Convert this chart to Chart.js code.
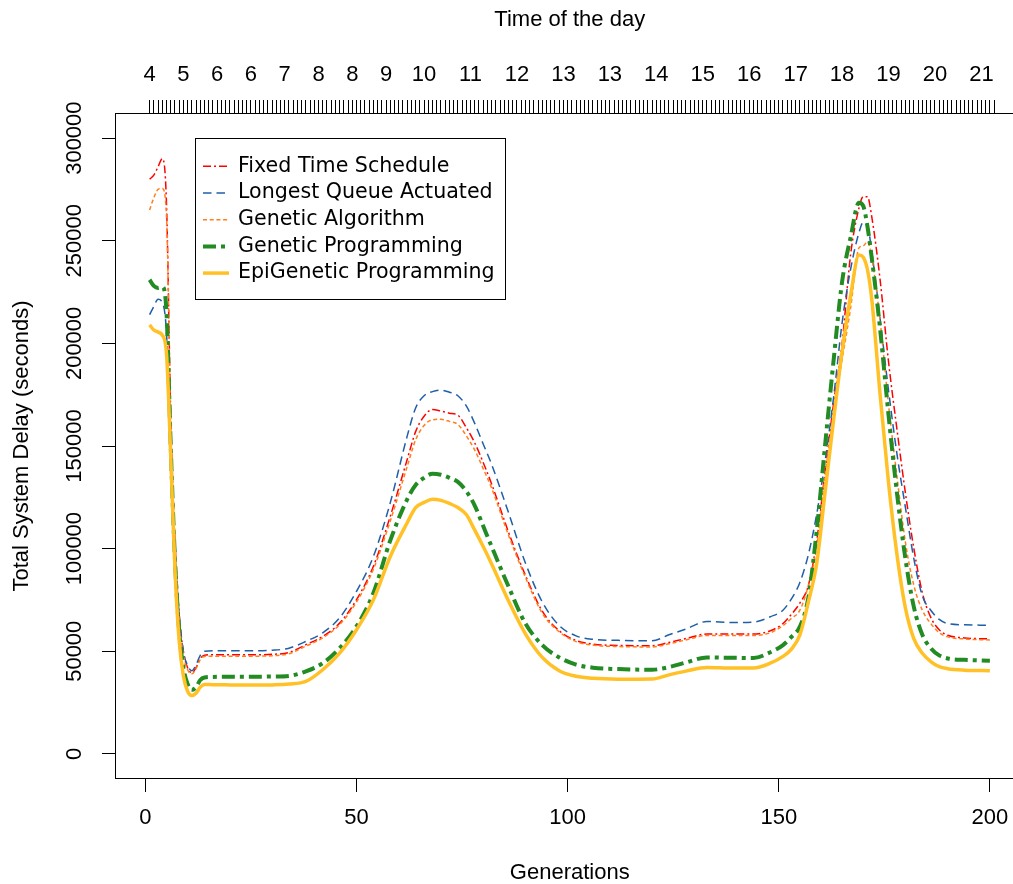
<!DOCTYPE html>
<html>
<head>
<meta charset="utf-8">
<title>Total System Delay</title>
<script src="https://cdn.jsdelivr.net/npm/chart.js@4.4.1/dist/chart.umd.min.js"></script>
<style>
    html, body { margin: 0; padding: 0; background: #fff; overflow: hidden; }
    #wrap { width: 1030px; height: 884px; }
</style>
</head>
<body>
<div id="wrap"><canvas id="delayChart" width="1030" height="884"></canvas></div>
<script>
const generations = [1, 2, 3, 4, 5, 6, 7, 8, 9, 10, 11, 12, 13, 14, 16, 20, 25, 30,
    34, 38, 42, 46, 50, 54, 58, 62, 64, 66, 68, 70, 72, 74, 76, 78, 80, 82,
    86, 90, 94, 98, 102, 106, 112, 120, 124, 128, 133, 139, 144, 148,
    151, 153, 155, 157, 159, 161, 163, 165, 167, 169,
    170, 171, 172, 174, 176, 178, 180, 182, 184, 186, 188, 190, 194, 200];

const fixedTime = [280000, 282000, 286000, 290000, 268000, 165000, 105000, 68000, 50000, 42000, 39500, 42000, 46500, 48000,
    48300, 48300, 48300, 48500,
    49400, 53200, 57200, 63700, 75100, 91400, 115800, 143400,
    157000, 164500, 167800, 167000, 166000, 165000, 159000, 151500, 142000, 131500,
    108000, 87000, 69500, 60000, 55200, 53500, 52800,
    52700, 54300, 56200, 58400, 58400, 58400, 60000,
    63500, 68000, 73500, 82000, 104000, 138000, 171000, 200000, 243000, 266000,
    271500, 271500, 262000, 231000, 191000, 158000, 127000, 100000, 78500, 66500, 60500, 57800, 56500, 56000];

const longestQueue = [214000, 218000, 221500, 220000, 205000, 150000, 100000, 68000, 50000, 43000, 40500, 43500, 48000, 50000,
    50200, 50200, 50200, 50500,
    51500, 54800, 59000, 66300, 79200, 96200, 122400, 154800,
    168500, 174500, 176500, 177200, 176200, 174500, 169500, 161000, 151000, 141000,
    117500, 93000, 74000, 62500, 57500, 55800, 55300,
    55100, 58000, 60800, 64500, 64000, 64200, 66800,
    70000, 75500, 83500, 97000, 117000, 143000, 174000, 210000, 236000, 254000,
    259000, 257500, 245000, 212000, 177000, 146000, 120000, 95000, 77000, 70000, 65500, 63500, 62900, 62600];

const geneticAlgo = [265000, 271000, 275000, 275500, 262000, 160000, 100000, 65000, 48000, 41000, 39000, 41500, 46000, 47500,
    47600, 47600, 47600, 47800,
    48800, 52500, 56500, 63000, 74000, 90000, 113500, 140000,
    153000, 160000, 162800, 163000, 162000, 160500, 155000, 148000, 139000, 129500,
    106500, 86000, 68500, 59500, 54700, 53000, 52300,
    52100, 53600, 55500, 57700, 57700, 57700, 59000,
    62500, 66000, 70000, 82000, 101000, 136000, 166000, 192000, 217000, 246500,
    247500, 249500, 242000, 211000, 170000, 135000, 103000, 82000, 70000, 63500, 59000, 57000, 56000, 55500];

const geneticProg = [231000, 228000, 227000, 227500, 215000, 150000, 95000, 60000, 42000, 34000, 31200, 32500, 36000, 37200,
    37500, 37600, 37600, 37700,
    38000, 40200, 44200, 51500, 62100, 78400, 104000, 124000,
    131000, 134500, 136500, 136000, 134500, 132500, 128000, 121000, 111000, 101000,
    81500, 63500, 53000, 47000, 43500, 42000, 41300,
    41000, 42300, 44500, 47000, 46800, 46700, 49500,
    53000, 57000, 62000, 76000, 109000, 151000, 192000, 230000, 251500, 268500,
    267000, 257000, 242000, 207000, 165000, 127000, 95000, 71500, 58000, 51500, 48000, 46500, 45800, 45400];

const epiGeneticProg = [209000, 206500, 205500, 204000, 195000, 145000, 90000, 55000, 38000, 30500, 28400, 29500, 32500, 33800,
    33700, 33600, 33500, 33600,
    34000, 35300, 41000, 49100, 60500, 75100, 96200, 112600,
    120000, 122500, 124000, 123500, 122000, 120000, 116600, 109000, 101000, 92500,
    74500, 58500, 47000, 40500, 37800, 36800, 36400,
    36500, 38500, 40300, 42100, 41800, 41800, 44200,
    47500, 51000, 58000, 74000, 93000, 128000, 163000, 196000, 223000, 243000,
    242000, 236000, 222000, 175000, 132000, 97000, 71000, 56000, 49000, 45000, 42500, 41500, 40800, 40500];

// axis ticks
const genTicks = [0, 50, 100, 150, 200];
const delayTicks = [0, 50000, 100000, 150000, 200000, 250000, 300000];

// top axis: hour of the day, labelled at these generations
const hourGens = [1, 9, 17, 25, 33, 41, 49, 57, 66, 77, 88, 99, 110, 121, 132, 143, 154, 165, 176, 187, 198];
const hourLabels = ['4', '5', '6', '6', '7', '8', '8', '9', '10', '11', '12', '13', '13', '14', '15', '16', '17', '18', '19', '20', '21'];

const seriesStyle = [
    { label: 'Fixed Time Schedule', values: fixedTime, color: '#ff0000', width: 1.5, dash: [8, 3, 2, 3] },
    { label: 'Longest Queue Actuated', values: longestQueue, color: '#1f5fa8', width: 1.5, dash: [8.5, 5] },
    { label: 'Genetic Algorithm', values: geneticAlgo, color: '#ff7f1e', width: 1.5, dash: [4, 2.7] },
    { label: 'Genetic Programming', values: geneticProg, color: '#228b22', width: 4, dash: [13, 5, 4, 5] },
    { label: 'EpiGenetic Programming', values: epiGeneticProg, color: '#ffc125', width: 3.5, dash: [] }
];

const X_MIN = -6.96, X_MAX = 207.96;   // R style 4% padding around 1..200
const Y_MIN = -12000, Y_MAX = 312000;  // and around 0..300000

const axisFont = { family: '"Liberation Sans", Arial, Helvetica, sans-serif', size: 22 };

// box, rotated y labels and the legend, drawn R-like
const rFrame = {
    id: 'rFrame',
    afterDraw(chart) {
        const { ctx, chartArea: a, scales } = chart;
        ctx.save();
        ctx.strokeStyle = '#000';
        ctx.lineWidth = 1;
        ctx.setLineDash([]);
        const left = Math.round(a.left) - 0.5;
        ctx.strokeRect(left, a.top, a.right - left, a.bottom - a.top);

        // y tick labels, reading upwards
        ctx.fillStyle = '#000';
        ctx.font = '22px "Liberation Sans", Arial, sans-serif';
        ctx.textAlign = 'center';
        ctx.textBaseline = 'middle';
        scales.y.ticks.forEach(t => {
            const py = scales.y.getPixelForValue(t.value);
            ctx.save();
            ctx.translate(75, py);
            ctx.rotate(-Math.PI / 2);
            ctx.fillText(String(t.value), 0, 0);
            ctx.restore();
        });

        // legend
        ctx.strokeRect(195.5, 138.5, 310, 161);
        ctx.font = '20.6px "DejaVu Sans", sans-serif';
        ctx.textAlign = 'left';
        chart.data.datasets.forEach((ds, i) => {
            const ly = 166.3 + i * 26.7;
            ctx.save();
            ctx.strokeStyle = ds.borderColor;
            ctx.lineWidth = ds.borderWidth;
            ctx.setLineDash(ds.borderDash);
            ctx.beginPath();
            ctx.moveTo(203, ly);
            ctx.lineTo(229, ly);
            ctx.stroke();
            ctx.restore();
            ctx.fillText(ds.label, 238, ly);
        });
        ctx.restore();
    }
};

const ctx = document.getElementById('delayChart');

new Chart(ctx, {
    type: 'line',
    data: {
        datasets: seriesStyle.map((s, i) => ({
            label: s.label,
            data: s.values.map((v, k) => ({ x: generations[k], y: v })),
            borderColor: s.color,
            backgroundColor: s.color,
            borderWidth: s.width,
            borderDash: s.dash,
            pointRadius: 0,
            fill: false,
            cubicInterpolationMode: 'monotone',
            order: seriesStyle.length - 1 - i
        }))
    },
    options: {
        responsive: false,
        animation: false,
        devicePixelRatio: 1,
        layout: { padding: { left: 0, right: 6.5, top: 0, bottom: 0 } },
        plugins: {
            legend: { display: false },
            tooltip: { enabled: false }
        },
        scales: {
            x: {
                type: 'linear',
                position: 'bottom',
                min: X_MIN,
                max: X_MAX,
                bounds: 'data',
                afterBuildTicks: s => { s.ticks = genTicks.map(v => ({ value: v })); },
                afterFit: s => { s.height = 105.5; },
                grid: { drawOnChartArea: false, tickLength: 13.5, tickColor: '#000', lineWidth: 1 },
                border: { display: false },
                ticks: { font: axisFont, color: '#000', padding: 12.3, maxRotation: 0, autoSkip: false },
                title: {
                    display: true, text: 'Generations', color: '#000',
                    font: Object.assign({}, axisFont, { lineHeight: 1 }),
                    padding: { top: 0, bottom: 0 }
                }
            },
            x2: {
                type: 'linear',
                position: 'top',
                min: X_MIN,
                max: X_MAX,
                bounds: 'data',
                afterBuildTicks: s => {
                    const t = [];
                    for (let g = 1; g <= 201; g++) t.push({ value: g });
                    s.ticks = t;
                },
                afterFit: s => { s.height = 113.5; },
                grid: { drawOnChartArea: false, tickLength: 13.5, tickColor: '#000', lineWidth: 1 },
                border: { display: false },
                ticks: {
                    font: axisFont, color: '#000', padding: 11.8, maxRotation: 0, minRotation: 0, autoSkip: false,
                    callback: v => {
                        const k = hourGens.indexOf(v);
                        return k >= 0 ? hourLabels[k] : '';
                    }
                },
                title: {
                    display: true, text: 'Time of the day', color: '#000',
                    font: Object.assign({}, axisFont, { lineHeight: 1 }),
                    padding: { top: 9, bottom: 0 }
                }
            },
            y: {
                type: 'linear',
                position: 'left',
                min: Y_MIN,
                max: Y_MAX,
                bounds: 'data',
                afterBuildTicks: s => { s.ticks = delayTicks.map(v => ({ value: v })); },
                afterFit: s => { s.width = 116; },
                grid: { drawOnChartArea: false, tickLength: 14, tickColor: '#000', lineWidth: 1 },
                border: { display: false },
                ticks: { display: false },
                title: {
                    display: true, text: 'Total System Delay (seconds)', color: '#000',
                    font: Object.assign({}, axisFont, { lineHeight: 1 }),
                    padding: { top: 11, bottom: 0 }
                }
            }
        }
    },
    plugins: [rFrame]
});
</script>
</body>
</html>
